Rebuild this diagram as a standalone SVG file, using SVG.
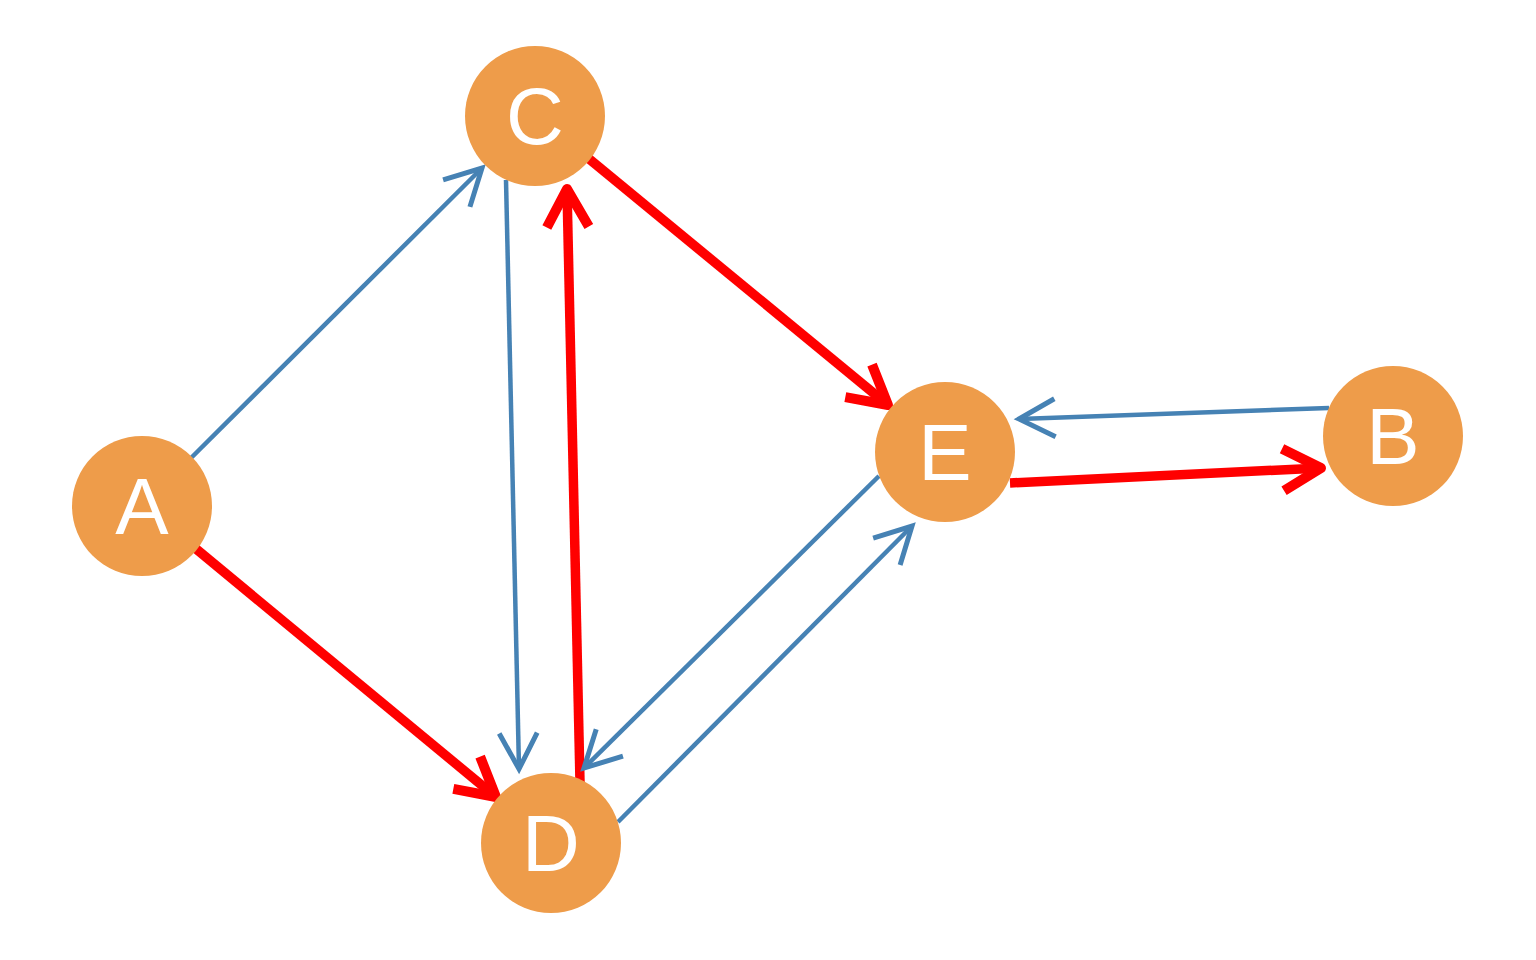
<svg xmlns="http://www.w3.org/2000/svg" width="1536" height="960" viewBox="0 0 1536 960">
<style>
.node{fill:#EE9C4A}
.lbl{fill:#fff;font-family:"Liberation Sans",Arial,sans-serif;font-size:80px;text-anchor:middle}
.blue{stroke:#4682B4;stroke-width:4.5;fill:none;marker-end:url(#mb)}
.red{stroke:#FF0000;stroke-width:9.5;fill:none;marker-end:url(#mr)}
</style>
<defs>
<marker id="mb" markerUnits="userSpaceOnUse" viewBox="-45 -30 55 60" refX="0" refY="0" markerWidth="55" markerHeight="60" orient="auto" overflow="visible">
<path d="M -36 -19 L 0 0 L -36 19" fill="none" stroke="#4682B4" stroke-width="5" stroke-linejoin="miter"/>
</marker>
<marker id="mr" markerUnits="userSpaceOnUse" viewBox="-45 -30 55 60" refX="0" refY="0" markerWidth="55" markerHeight="60" orient="auto" overflow="visible">
<path d="M -38 -21 L 0 0 L -38 21" fill="none" stroke="#FF0000" stroke-width="10" stroke-linejoin="round"/>
</marker>
</defs>
<rect width="1536" height="960" fill="#fff"/>
<g id="edges">
<line class="blue" x1="190" y1="459" x2="482" y2="168"/>
<line class="blue" x1="506" y1="180" x2="519" y2="769"/>
<line class="red" x1="580" y1="782" x2="567" y2="189"/>
<line class="red" x1="588" y1="158" x2="888" y2="405"/>
<line class="red" x1="195" y1="548" x2="496" y2="797"/>
<line class="blue" x1="879" y1="476" x2="584" y2="768"/>
<line class="blue" x1="618" y1="822" x2="912" y2="526"/>
<line class="blue" x1="1329" y1="408" x2="1019" y2="419"/>
<line class="red" x1="1010" y1="483" x2="1321" y2="468"/>
</g>
<g id="A"><circle class="node" cx="142" cy="506" r="70"/><text class="lbl" x="142" y="534">A</text></g>
<g id="C"><circle class="node" cx="535" cy="116" r="70"/><text class="lbl" x="535" y="144">C</text></g>
<g id="D"><circle class="node" cx="551" cy="843" r="70"/><text class="lbl" x="551" y="871">D</text></g>
<g id="E"><circle class="node" cx="945" cy="452" r="70"/><text class="lbl" x="945" y="480">E</text></g>
<g id="B"><circle class="node" cx="1393" cy="436" r="70"/><text class="lbl" x="1393" y="464">B</text></g>
</svg>
